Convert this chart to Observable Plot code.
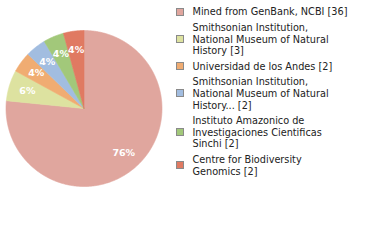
<!DOCTYPE html>
<html>
<head>
<meta charset="utf-8">
<script src="https://cdn.jsdelivr.net/npm/d3@7"></script>
<script src="https://cdn.jsdelivr.net/npm/@observablehq/plot@0.6"></script>
<style>
  html, body { margin: 0; padding: 0; background: #fff; }
  #chart svg { display: block; }
</style>
</head>
<body>
<div id="chart"></div>
<script>
// ---- data ----
const sources = [
  "Mined from GenBank, NCBI",
  "Smithsonian Institution, National Museum of Natural History",
  "Universidad de los Andes",
  "Smithsonian Institution, National Museum of Natural History...",
  "Instituto Amazonico de Investigaciones Cientificas Sinchi",
  "Centre for Biodiversity Genomics"
];
const counts = [36, 3, 2, 2, 2, 2];
const legendLines = [
  ["Mined from GenBank, NCBI [36]"],
  ["Smithsonian Institution,", "National Museum of Natural", "History [3]"],
  ["Universidad de los Andes [2]"],
  ["Smithsonian Institution,", "National Museum of Natural", "History... [2]"],
  ["Instituto Amazonico de", "Investigaciones Cientificas", "Sinchi [2]"],
  ["Centre for Biodiversity", "Genomics [2]"]
];
const colors = ["#e0a69e", "#dde2a0", "#f0ac72", "#a2bde0", "#a2c87a", "#e07a62"];

// ---- layout ----
const W = 380, H = 240;
const cx = 83.5, cy = 108, R = 78;
const labelR = 0.76 * R;
const legX = 180.5, legTextX = 192, lineH = 11.8, entryGap = 3.5, legTop = 11.5;

const total = d3.sum(counts);
const arcs = d3.pie().sort(null).value(d => d)(counts);

const slices = arcs.map((a, i) => {
  const pts = [{x: cx, y: cy}];
  const n = Math.max(2, Math.ceil((a.endAngle - a.startAngle) / 0.01));
  for (let k = 0; k <= n; k++) {
    const t = a.startAngle + (a.endAngle - a.startAngle) * k / n;
    pts.push({x: cx + R * Math.sin(t), y: cy - R * Math.cos(t)});
  }
  pts.push({x: cx, y: cy});
  return pts;
});

const labels = arcs.map((a, i) => {
  const m = (a.startAngle + a.endAngle) / 2;
  return {
    x: cx + labelR * Math.sin(m),
    y: cy - labelR * Math.cos(m),
    text: Math.floor(counts[i] / total * 100) + "%"
  };
});

const legendText = [];
const legendBoxes = [];
let yy = legTop;
legendLines.forEach((lines, i) => {
  const first = yy;
  lines.forEach((s, j) => { legendText.push({x: legTextX, y: yy + j * lineH, text: s}); });
  const last = yy + (lines.length - 1) * lineH;
  const mid = Math.round((first + last) / 2);
  legendBoxes.push({x1: legX - 4, x2: legX + 3, y1: mid - 3.5, y2: mid + 3.5, color: colors[i]});
  yy = last + lineH + entryGap;
});

const marks = [];
slices.forEach((pts, i) => {
  marks.push(Plot.line(pts, {x: "x", y: "y", fill: colors[i], stroke: colors[i], strokeWidth: 0.6, curve: "linear"}));
});
marks.push(Plot.text(labels, {
  x: "x", y: "y", text: "text", fill: "white", fontSize: 9.5,
  fontFamily: "DejaVu Sans", fontWeight: "bold", style: "letter-spacing:0.5px"
}));
marks.push(Plot.rect(legendBoxes, {x1: "x1", x2: "x2", y1: "y1", y2: "y2", fill: "color", stroke: "#8a8a8a", strokeWidth: 1}));
marks.push(Plot.text(legendText, {
  x: "x", y: "y", text: "text", textAnchor: "start", fill: "#222",
  fontSize: 10.8, fontFamily: "DejaVu Sans Condensed, DejaVu Sans", style: "font-stretch:condensed"
}));

const chart = Plot.plot({
  width: W, height: H,
  margin: 0,
  x: {domain: [0, W], range: [0, W], axis: null},
  y: {domain: [0, H], range: [0, H], axis: null},
  style: {background: "white", overflow: "visible"},
  marks
});
document.getElementById("chart").append(chart);
</script>
</body>
</html>
